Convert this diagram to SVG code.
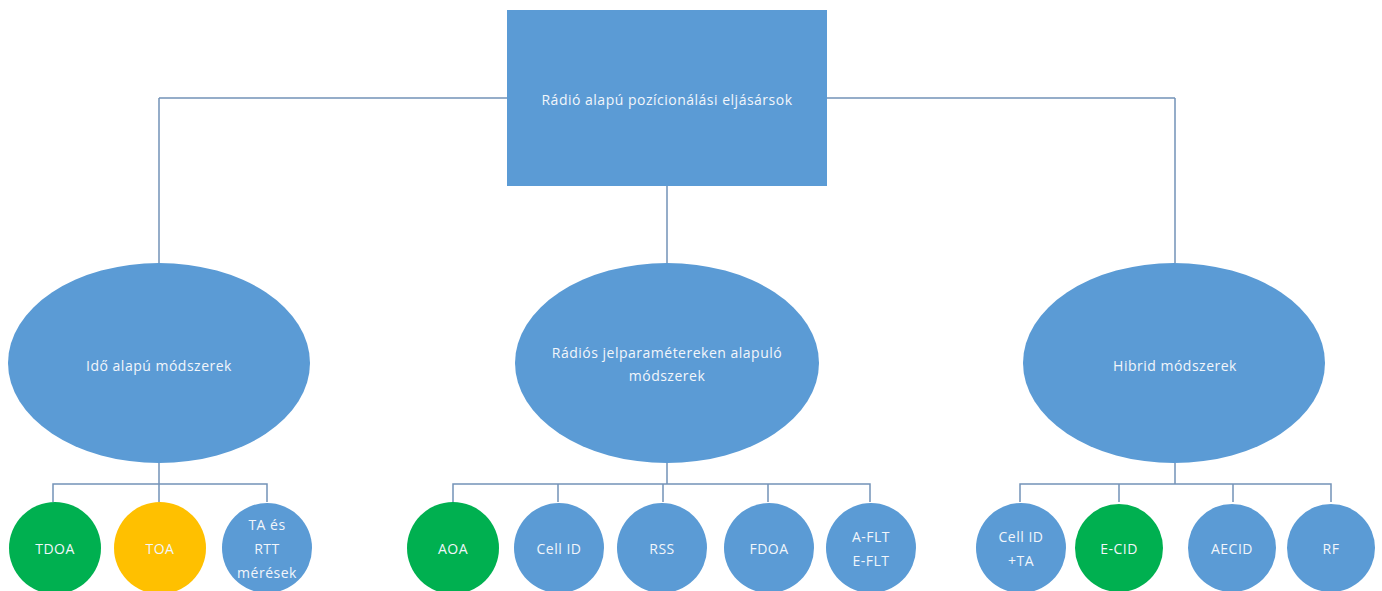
<svg xmlns="http://www.w3.org/2000/svg" width="1382" height="591" viewBox="0 0 1382 591">
<style>
.ln{fill:none;stroke:#7393B8;stroke-width:1.5}
.b{fill:#5B9BD5}
.g{fill:#00B050}
.y{fill:#FFC000}
text{font-family:"Open Sans","Liberation Sans",sans-serif;font-size:14px;letter-spacing:0.5px;fill:#F2F6FB;text-anchor:middle;dominant-baseline:central}
</style>
<g id="connectors">
<path class="ln" d="M159 98H1175M159 98V263M1175 98V263M667 186V263"/>
<path class="ln" d="M159 463V484M53 502V484H267V502M159 484V502"/>
<path class="ln" d="M667 463V484M453 502V484H870V502M558 484V502M663 484V502M768 484V502"/>
<path class="ln" d="M1175 463V484M1020 502V484H1331V502M1119 484V502M1233 484V502"/>
</g>
<g id="root"><rect class="b" x="507" y="10" width="320" height="176"/><text x="667" y="99">Rádió alapú pozícionálási eljásársok</text></g>
<g id="ido"><ellipse class="b" cx="159" cy="363" rx="151" ry="100"/><text x="159" y="365">Idő alapú módszerek</text></g>
<g id="radios"><ellipse class="b" cx="667" cy="363" rx="152" ry="100"/><text x="667" y="352">Rádiós jelparamétereken alapuló</text><text x="667" y="375">módszerek</text></g>
<g id="hibrid"><ellipse class="b" cx="1174" cy="363" rx="151" ry="100"/><text x="1175" y="365">Hibrid módszerek</text></g>
<g id="tdoa"><circle class="g" cx="55" cy="548" r="46"/><text x="55" y="548">TDOA</text></g>
<g id="toa"><circle class="y" cx="160" cy="548" r="46"/><text x="160" y="548">TOA</text></g>
<g id="tartt"><circle class="b" cx="267" cy="548" r="45"/><text x="267" y="524">TA és</text><text x="267" y="548">RTT</text><text x="267" y="572">mérések</text></g>
<g id="aoa"><circle class="g" cx="453" cy="548" r="46"/><text x="453" y="548">AOA</text></g>
<g id="cellid"><circle class="b" cx="559" cy="548" r="45"/><text x="559" y="548">Cell ID</text></g>
<g id="rss"><circle class="b" cx="662" cy="548" r="45"/><text x="662" y="548">RSS</text></g>
<g id="fdoa"><circle class="b" cx="769" cy="548" r="45"/><text x="769" y="548">FDOA</text></g>
<g id="aflt"><circle class="b" cx="871" cy="548" r="45"/><text x="871" y="536">A-FLT</text><text x="871" y="560">E-FLT</text></g>
<g id="cellidta"><circle class="b" cx="1021" cy="548" r="45"/><text x="1021" y="536">Cell ID</text><text x="1021" y="560">+TA</text></g>
<g id="ecid"><circle class="g" cx="1119" cy="548" r="44"/><text x="1119" y="548">E-CID</text></g>
<g id="aecid"><circle class="b" cx="1232" cy="548" r="44"/><text x="1232" y="548">AECID</text></g>
<g id="rf"><circle class="b" cx="1331" cy="548" r="44"/><text x="1331" y="548">RF</text></g>
</svg>
